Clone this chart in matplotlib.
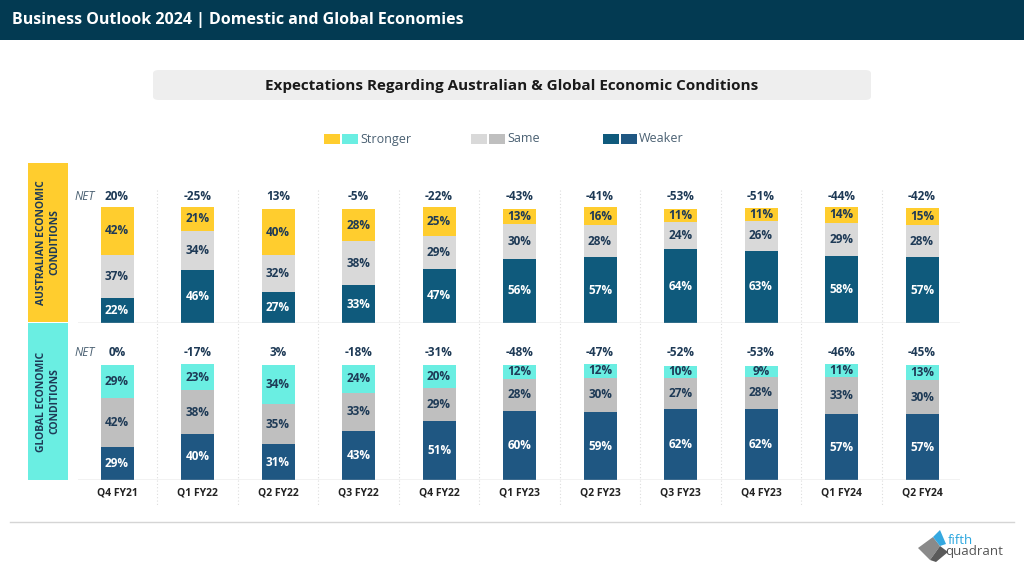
import matplotlib.pyplot as plt
from matplotlib.patches import Rectangle, FancyBboxPatch, Polygon
from matplotlib.lines import Line2D

plt.rcParams['font.family'] = ['Open Sans', 'DejaVu Sans']

# ---- data ----
quarters = ['Q4 FY21', 'Q1 FY22', 'Q2 FY22', 'Q3 FY22', 'Q4 FY22', 'Q1 FY23',
            'Q2 FY23', 'Q3 FY23', 'Q4 FY23', 'Q1 FY24', 'Q2 FY24']

aus_weaker = [22, 46, 27, 33, 47, 56, 57, 64, 63, 58, 57]
aus_same = [37, 34, 32, 38, 29, 30, 28, 24, 26, 29, 28]
aus_stronger = [42, 21, 40, 28, 25, 13, 16, 11, 11, 14, 15]
aus_net = [20, -25, 13, -5, -22, -43, -41, -53, -51, -44, -42]

glob_weaker = [29, 40, 31, 43, 51, 60, 59, 62, 62, 57, 57]
glob_same = [42, 38, 35, 33, 29, 28, 30, 27, 28, 33, 30]
glob_stronger = [29, 23, 34, 24, 20, 12, 12, 10, 9, 11, 13]
glob_net = [0, -17, 3, -18, -31, -48, -47, -52, -53, -46, -45]

# ---- colours ----
HEADER = '#033a52'
YELLOW = '#ffcd2e'
CYAN = '#6aeee2'
GREY_L = '#d9d9d9'
GREY_D = '#bfbfbf'
BLUE_A = '#0f5a7c'
BLUE_G = '#1f5782'
TXT = '#1e3a56'

W, H = 1024, 576
fig = plt.figure(figsize=(W / 100, H / 100), dpi=100)


def fx(px):
    return px / W


def fy(py):
    return 1 - py / H


# header band
fig.patches.append(Rectangle((0, fy(40)), 1, 40 / H, transform=fig.transFigure,
                             facecolor=HEADER, edgecolor='none', zorder=0))
fig.text(fx(12), fy(20), 'Business Outlook 2024 | Domestic and Global Economies',
         color='white', fontsize=11.5, fontweight='bold', va='center', ha='left')

# title box
fig.patches.append(FancyBboxPatch((fx(153), fy(100)), fx(718), 30 / H,
                                  boxstyle='round,pad=0,rounding_size=0.006',
                                  transform=fig.transFigure, facecolor='#eeeeee',
                                  edgecolor='none'))
fig.text(fx(512), fy(86), 'Expectations Regarding Australian & Global Economic Conditions',
         color='#1a1a1a', fontsize=11, fontweight='bold', ha='center', va='center')

# legend
legend_items = [(324, [YELLOW, CYAN], 'Stronger'),
                (471, [GREY_L, GREY_D], 'Same'),
                (603, [BLUE_A, BLUE_G], 'Weaker')]
for x0, cols, lab in legend_items:
    for i, c in enumerate(cols):
        fig.patches.append(Rectangle((fx(x0 + i * 18), fy(144)), fx(16), 10 / H,
                                     transform=fig.transFigure, facecolor=c,
                                     edgecolor='none'))
    fig.text(fx(x0 + 36), fy(139), lab, color='#4a6072', fontsize=9,
             ha='left', va='center')

# side labels
sides = [(163, 322, YELLOW, 'AUSTRALIAN ECONOMIC\nCONDITIONS'),
         (323, 480, CYAN, 'GLOBAL ECONOMIC\nCONDITIONS')]
for top, bot, c, lab in sides:
    fig.patches.append(Rectangle((fx(28), fy(bot)), fx(40), (bot - top) / H,
                                 transform=fig.transFigure, facecolor=c,
                                 edgecolor='none'))
    fig.text(fx(48), fy((top + bot) / 2), lab, rotation=90, color=TXT,
             fontsize=7.5, fontweight='bold', ha='center', va='center',
             multialignment='center', linespacing=1.3)

# vertical dotted separators
for i in range(len(quarters) - 1):
    xs = 117 + 80.5 * (i + 0.5)
    fig.add_artist(Line2D([fx(xs), fx(xs)], [fy(190), fy(505)],
                          transform=fig.transFigure, color='#dddddd',
                          lw=0.8, linestyle=(0, (1, 2))))

# panels
px_per_pct = 1.15
panels = [
    (323, aus_weaker, aus_same, aus_stronger, aus_net, BLUE_A, GREY_L, YELLOW, 197),
    (480, glob_weaker, glob_same, glob_stronger, glob_net, BLUE_G, GREY_D, CYAN, 353),
]
x = list(range(len(quarters)))
for base, weak, same, strong, net, cw, cs, cst, net_y in panels:
    ax_h = 150
    ax = fig.add_axes([fx(78), fy(base), fx(882), ax_h / H])
    ax.set_xlim(-39 / 80.5, (960 - 117) / 80.5)
    ax.set_ylim(0, ax_h / px_per_pct)
    ax.axis('off')
    ax.axhline(0, color='#c0c0c0', lw=1)
    bw = 33 / 80.5
    ax.bar(x, weak, width=bw, color=cw)
    ax.bar(x, same, width=bw, bottom=weak, color=cs)
    bottoms = [w + s for w, s in zip(weak, same)]
    ax.bar(x, strong, width=bw, bottom=bottoms, color=cst)
    for i in x:
        ax.text(i, weak[i] / 2, f'{weak[i]}%', color='white', fontsize=8.5,
                fontweight='bold', ha='center', va='center')
        ax.text(i, weak[i] + same[i] / 2, f'{same[i]}%', color=TXT, fontsize=8.5,
                fontweight='bold', ha='center', va='center')
        ax.text(i, bottoms[i] + strong[i] / 2, f'{strong[i]}%', color=TXT,
                fontsize=8.5, fontweight='bold', ha='center', va='center')
        ny = (base - net_y) / px_per_pct
        ax.text(i, ny, f'{net[i]}%', color=TXT, fontsize=8.5, fontweight='bold',
                ha='center', va='center')
    ax.text(-0.4, (base - net_y) / px_per_pct, 'NET', color='#4a6072',
            fontsize=8.5, style='italic', ha='center', va='center')

# category labels
for i, q in enumerate(quarters):
    fig.text(fx(117 + 80.5 * i), fy(493), q, color='#222222', fontsize=7.5,
             fontweight='bold', ha='center', va='center')

# bottom rule
fig.add_artist(Line2D([fx(10), fx(1014)], [fy(522), fy(522)],
                      transform=fig.transFigure, color='#d5d5d5', lw=1))

# logo (approximation)
logo_polys = [
    ([(918, 548), (933, 537), (940, 546), (930, 560)], '#8a8a8a'),
    ([(930, 560), (940, 546), (948, 552), (936, 562)], '#5a5a5a'),
    ([(933, 537), (940, 530), (946, 544), (940, 546)], '#35a8e0'),
]
for pts, c in logo_polys:
    fig.patches.append(Polygon([(fx(a), fy(b)) for a, b in pts], closed=True,
                               transform=fig.transFigure, facecolor=c,
                               edgecolor='none'))
fig.text(fx(948), fy(540), 'fifth', color='#2aa6df', fontsize=9.5,
         ha='left', va='center')
fig.text(fx(945), fy(552), 'quadrant', color='#555555', fontsize=9.5,
         ha='left', va='center')

fig.savefig('out.png', dpi=100)
